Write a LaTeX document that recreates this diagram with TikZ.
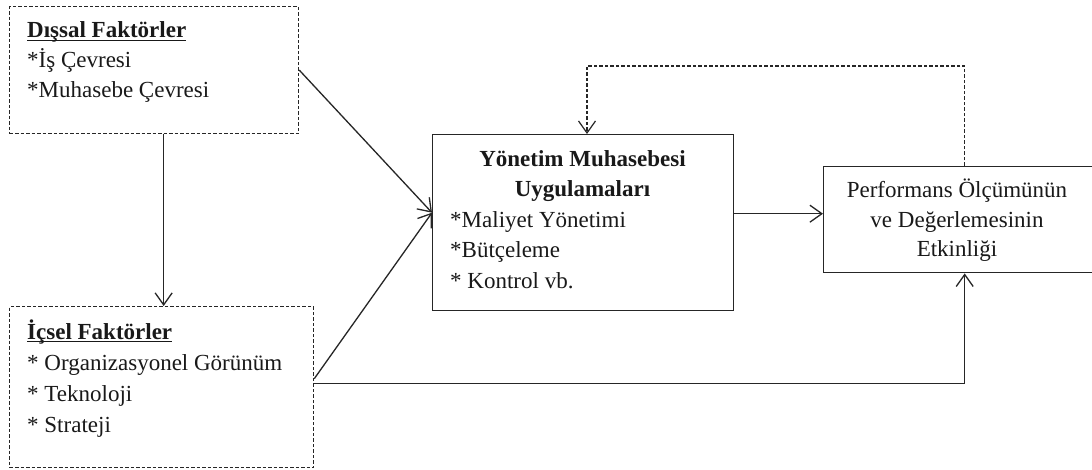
\documentclass[tikz,border=0pt]{standalone}
\usepackage{fontspec}
\setmainfont{Liberation Serif}
\usetikzlibrary{arrows.meta}
\newcommand\ulx[1]{\setbox0\hbox{#1}\rlap{\rule[-3.2pt]{\wd0}{1.3pt}}\box0}
\begin{document}
\begin{tikzpicture}[x=1pt,y=-1pt,
  every node/.style={inner sep=0pt, font=\fontsize{23}{30}\selectfont, text=black!90},
  dbox/.style={draw=black!85, dash pattern=on 3.5pt off 2pt, line width=1.3pt, rectangle, anchor=north west},
  sbox/.style={draw=black!85, line width=1.4pt, rectangle, anchor=north west},
  lt/.style={anchor=base west},
  ct/.style={anchor=base},
  arr/.style={draw=black!85, line width=1.3pt, -{Straight Barb[length=12pt,width=17pt,line width=1.3pt]}},
  darr/.style={draw=black!85, line width=1.2pt, dash pattern=on 3.5pt off 2pt, -{Straight Barb[length=12pt,width=17pt,line width=1.2pt]}}]
\useasboundingbox (0,0) rectangle (1092,470);
\clip (0,0) rectangle (1092,470);
\fill[white] (0,0) rectangle (1092,470);

% boxes
\node[dbox, minimum width=289pt, minimum height=127pt] (ext) at (9,6) {};
\node[dbox, minimum width=304pt, minimum height=161pt] (int) at (9,306) {};
\node[sbox, minimum width=301pt, minimum height=176pt] (mgmt) at (432,134) {};
\node[sbox, minimum width=282pt, minimum height=106pt] (perf) at (823,166) {};

% texts: external factors
\node[lt] (e1) at (27,38) {\textbf{\ulx{Dışsal Faktörler}}};
\node[lt] (e2) at (27,68) {*İş Çevresi};
\node[lt] (e3) at (27,98) {*Muhasebe Çevresi};

% texts: internal factors
\node[lt] (i1) at (27,339) {\textbf{\ulx{İçsel Faktörler}}};
\node[lt] (i2) at (27,370) {* Organizasyonel Görünüm};
\node[lt] (i3) at (27,401) {* Teknoloji};
\node[lt] (i4) at (27,432) {* Strateji};

% texts: management accounting
\node[ct] (m1t) at (582.5,167) {\textbf{Yönetim Muhasebesi}};
\node[ct] (m2t) at (582.5,197) {\textbf{Uygulamaları}};
\node[lt] (m3t) at (450,228) {*Maliyet Yönetimi};
\node[lt] (m4t) at (450,258) {*Bütçeleme};
\node[lt] (m5t) at (450,289) {* Kontrol vb.};

% texts: performance
\node[ct] (p1) at (957,198) {Performans Ölçümünün};
\node[ct] (p2) at (957,228) {ve Değerlemesinin};
\node[ct] (p3) at (957,257) {Etkinliği};

% connectors
\draw[arr] (ext.east) -- ([yshift=10pt]mgmt.west);
\coordinate (v1) at ([xshift=9.5pt]ext.south);
\draw[arr] (v1) -- (v1 |- int.north);
\coordinate (d2) at ([yshift=8.5pt]int.east);
\draw[arr] (d2) -- ([yshift=10pt]mgmt.west);
\coordinate (h2) at ([yshift=3.5pt]int.east);
\draw[arr] (h2) -| (perf.south);
\coordinate (mr) at ([yshift=9pt]mgmt.east);
\draw[arr] (mr) -- (mr -| perf.west);
\coordinate (fb) at (587,66);
\draw[darr] (perf.north) |- (fb) -- (fb |- mgmt.north);
\end{tikzpicture}
\end{document}
